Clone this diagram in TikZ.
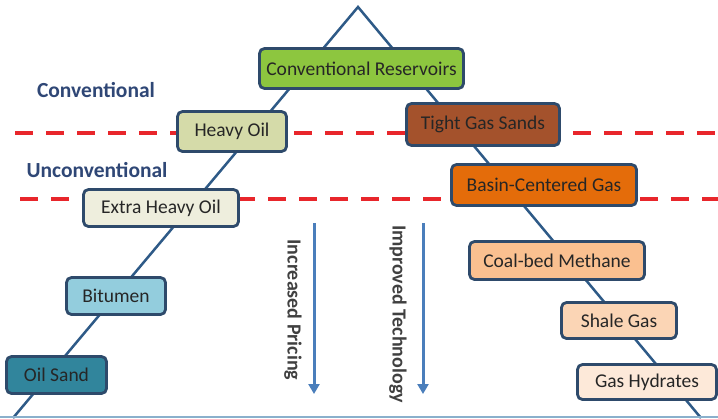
\documentclass[tikz,border=0pt]{standalone}
\usepackage{fontspec}
\setmainfont{Carlito}
\usetikzlibrary{arrows.meta}

\definecolor{boxline}{HTML}{2E4A6B}
\definecolor{slope}{HTML}{2E5A87}
\definecolor{cutred}{HTML}{E8262B}
\definecolor{trendblue}{HTML}{4A7EBB}
\definecolor{zonetext}{HTML}{2F4776}
\definecolor{floorblue}{HTML}{8AB0CC}

\tikzset{
	res/.style={draw=boxline, line width=2.8pt, rounded corners=5pt, inner sep=0pt,
		text=black!85, font=\fontsize{19.5}{21}\selectfont},
	zone/.style={text=zonetext, font=\bfseries\fontsize{21.5}{23}\selectfont},
	cut/.style={draw=cutred, line width=4.5pt, dash pattern=on 18pt off 13pt},
	trend/.style={draw=trendblue, line width=3pt, -{Triangle[length=10pt,width=11pt]}},
	trendlabel/.style={text=black!75, rotate=-90, font=\bfseries\fontsize{20}{22}\selectfont},
}

\begin{document}
\begin{tikzpicture}[x=1pt,y=-1pt]
	\useasboundingbox (0,0) rectangle (718,418);
	\fill[white] (0,0) rectangle (718,418);
	
	% the two slopes of the triangle
	\coordinate (apex) at (358,7);
	\coordinate (lend) at (13,418);
	\coordinate (rend) at (701,418);
	\draw[slope, line width=2.5pt] (lend) -- (apex) -- (rend);
	\draw[floorblue, line width=1.5pt] (0,417) -- (718,417);
	
	% boundaries
	\draw[cut] (15,133) -- (718,133);
	\draw[cut] (20,199) -- (718,199);
	
	\node[zone] (conv) at (96,90) {Conventional};
	\node[zone] (unconv) at (97,170) {Unconventional};
	
	% oil side
	\node[res, fill={rgb,255:red,141;green,198;blue,63}, minimum width=204pt, minimum height=40pt] (reservoirs) at (361.5,68.5) {Conventional Reservoirs};
	\node[res, fill={rgb,255:red,213;green,219;blue,169}, minimum width=109pt, minimum height=40pt] (heavy) at (232,131.5) {Heavy Oil};
	\node[res, fill={rgb,255:red,238;green,238;blue,221}, minimum width=155pt, minimum height=37pt] (xheavy) at (161,208) {Extra Heavy Oil};
	\node[res, fill={rgb,255:red,147;green,205;blue,221}, minimum width=99pt, minimum height=37pt] (bitumen) at (116,296) {Bitumen};
	\node[res, fill={rgb,255:red,49;green,133;blue,156}, minimum width=100pt, minimum height=37pt] (oilsand) at (56.5,375) {Oil Sand};
	
	% gas side
	\node[res, fill={rgb,255:red,164;green,82;blue,44}, minimum width=153pt, minimum height=42pt] (tight) at (483,124.5) {Tight Gas Sands};
	\node[res, fill={rgb,255:red,228;green,108;blue,10}, minimum width=185pt, minimum height=41pt] (basin) at (544,185) {Basin-Centered Gas};
	\node[res, fill={rgb,255:red,250;green,192;blue,144}, minimum width=175pt, minimum height=38pt] (coalbed) at (557,260.5) {Coal-bed Methane};
	\node[res, fill={rgb,255:red,251;green,213;blue,181}, minimum width=115pt, minimum height=36pt] (shale) at (619,320.5) {Shale Gas};
	\node[res, fill={rgb,255:red,253;green,233;blue,217}, minimum width=139pt, minimum height=35pt] (hydrates) at (647,382) {Gas Hydrates};
	
	% trends
	\coordinate (pricetop) at (314,223);
	\coordinate (pricebot) at (314,394);
	\coordinate (techtop) at (423,223);
	\coordinate (techbot) at (423,394);
	\draw[trend] (pricetop) -- (pricebot);
	\draw[trend] (techtop) -- (techbot);
	\node[trendlabel] (pricing) at (293,310) {Increased Pricing};
	\node[trendlabel] (technology) at (398,314) {Improved Technology};
\end{tikzpicture}
\end{document}
